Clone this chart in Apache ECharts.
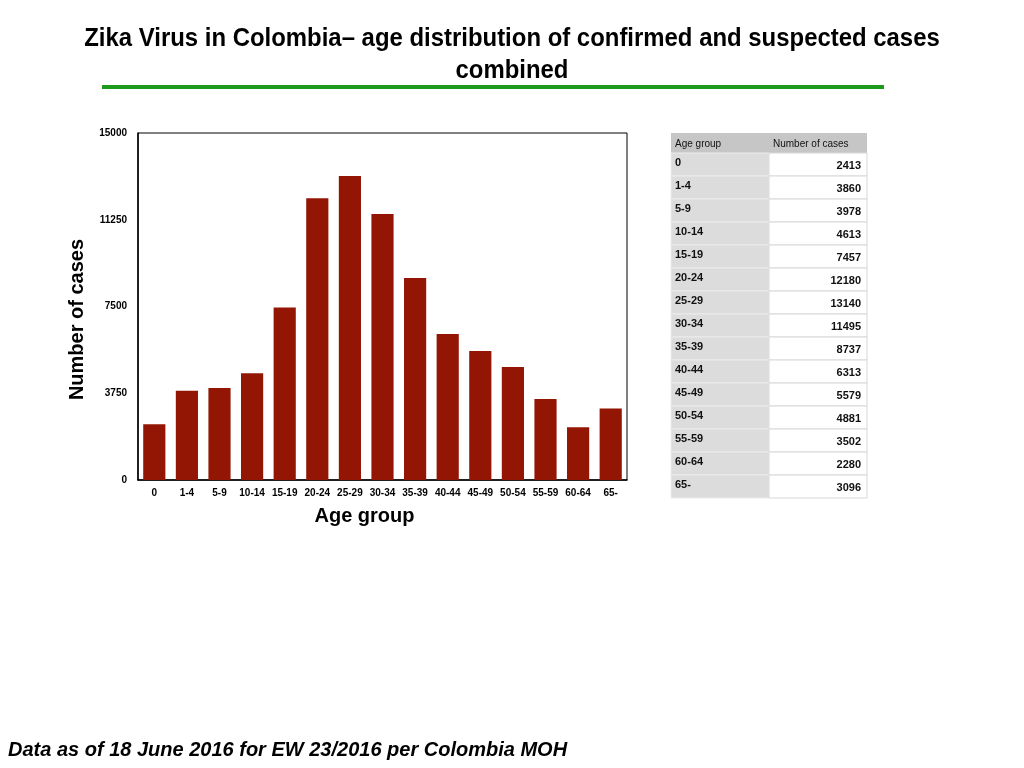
<!DOCTYPE html>
<html>
<head>
<meta charset="utf-8">
<script src="https://cdn.jsdelivr.net/npm/echarts@6/dist/echarts.min.js"></script>
<style>
  html, body { margin: 0; padding: 0; background: #fff; }
  #chart { width: 1024px; height: 768px; }
</style>
</head>
<body>
<div id="chart"></div>
<script>
// data
const ageGroups = ["0", "1-4", "5-9", "10-14", "15-19", "20-24", "25-29", "30-34",
  "35-39", "40-44", "45-49", "50-54", "55-59", "60-64", "65-"];
const cases = [2413, 3860, 3978, 4613, 7457, 12180, 13140, 11495,
  8737, 6313, 5579, 4881, 3502, 2280, 3096];
const tableHeader = ["Age group", "Number of cases"];
const titleLines = ["Zika Virus in Colombia\u2013 age distribution of confirmed and suspected cases", "combined"];

const FONT = "'Liberation Sans', Arial, sans-serif";
const barColor = "#931503";

// table on the right, built from the same arrays
const tbl = { x: 671, split: 769, right: 867, top: 133, headH: 20, rowH: 23 };
const tableEls = [];
tableEls.push({
  type: "rect",
  shape: { x: tbl.x, y: tbl.top, width: tbl.right - tbl.x, height: tbl.headH },
  style: { fill: "#c6c6c6" },
});
tableEls.push({
  type: "text", x: tbl.x + 4, y: tbl.top + 11,
  style: { text: tableHeader[0], font: "10px " + FONT, fill: "#111", verticalAlign: "middle" },
});
tableEls.push({
  type: "text", x: tbl.split + 4, y: tbl.top + 11,
  style: { text: tableHeader[1], font: "10px " + FONT, fill: "#111", verticalAlign: "middle" },
});
ageGroups.forEach((g, i) => {
  const y = tbl.top + tbl.headH + i * tbl.rowH;
  tableEls.push({
    type: "rect",
    shape: { x: tbl.x, y: y, width: tbl.split - tbl.x, height: tbl.rowH },
    style: { fill: "#dcdcdc", stroke: "#ececec", lineWidth: 1 },
  });
  tableEls.push({
    type: "rect",
    shape: { x: tbl.split, y: y, width: tbl.right - tbl.split, height: tbl.rowH },
    style: { fill: "#fff", stroke: "#d8d8d8", lineWidth: 1 },
  });
  tableEls.push({
    type: "text", x: tbl.x + 4, y: y + 10,
    style: { text: g, font: "bold 11px " + FONT, fill: "#111", verticalAlign: "middle" },
  });
  tableEls.push({
    type: "text", x: tbl.right - 6, y: y + 13,
    style: { text: String(cases[i]), font: "bold 11px " + FONT, fill: "#111",
      align: "right", verticalAlign: "middle" },
  });
});

// condensed-looking title: bold text squeezed horizontally
const titleEls = titleLines.map((t, i) => ({
  type: "text",
  x: 512,
  y: 39 + i * 32,
  scaleX: 0.92,
  style: {
    text: t,
    font: "bold 26px " + FONT,
    fill: "#000",
    align: "center",
    verticalAlign: "middle",
  },
}));

const option = {
  backgroundColor: "#fff",
  animation: false,
  grid: {
    left: 138,
    top: 133,
    width: 489,
    height: 347,
    show: true,
    borderColor: "#000",
    borderWidth: 1,
    backgroundColor: "#fff",
  },
  xAxis: {
    type: "category",
    data: ageGroups,
    name: "Age group",
    nameLocation: "middle",
    nameGap: 26,
    nameTextStyle: {
      fontFamily: FONT, fontSize: 20, fontWeight: "bold", color: "#000",
      padding: [0, 36, 0, 0],
    },
    axisLine: { lineStyle: { color: "#000", width: 1.5 } },
    axisTick: { show: false },
    axisLabel: { interval: 0, margin: 8, fontFamily: FONT, fontSize: 10, fontWeight: "bold", color: "#000" },
  },
  yAxis: {
    type: "value",
    min: 0,
    max: 15000,
    interval: 3750,
    name: "Number of cases",
    nameLocation: "middle",
    nameGap: 51,
    nameTextStyle: {
      fontFamily: FONT, fontSize: 20, fontWeight: "bold", color: "#000",
      padding: [0, 26, 0, 0],
    },
    axisLine: { show: true, lineStyle: { color: "#000", width: 1.5 } },
    axisTick: { show: false },
    splitLine: { show: false },
    axisLabel: {
      margin: 11, fontFamily: FONT, fontSize: 10, fontWeight: "bold", color: "#000",
      formatter: (v) => String(v),
    },
  },
  series: [
    {
      type: "bar",
      data: cases,
      barCategoryGap: "32%",
      itemStyle: { color: barColor },
    },
  ],
  graphic: [
    ...titleEls,
    {
      type: "rect",
      shape: { x: 102, y: 85, width: 782, height: 4 },
      style: { fill: "#1c9a1c" },
    },
    {
      type: "text",
      x: 8,
      y: 750,
      style: {
        text: "Data as of 18 June 2016 for EW 23/2016 per Colombia MOH",
        font: "italic bold 20px " + FONT,
        fill: "#000",
        verticalAlign: "middle",
      },
    },
    ...tableEls,
  ],
};

const myChart = echarts.init(document.getElementById("chart"));
myChart.setOption(option);
</script>
</body>
</html>
